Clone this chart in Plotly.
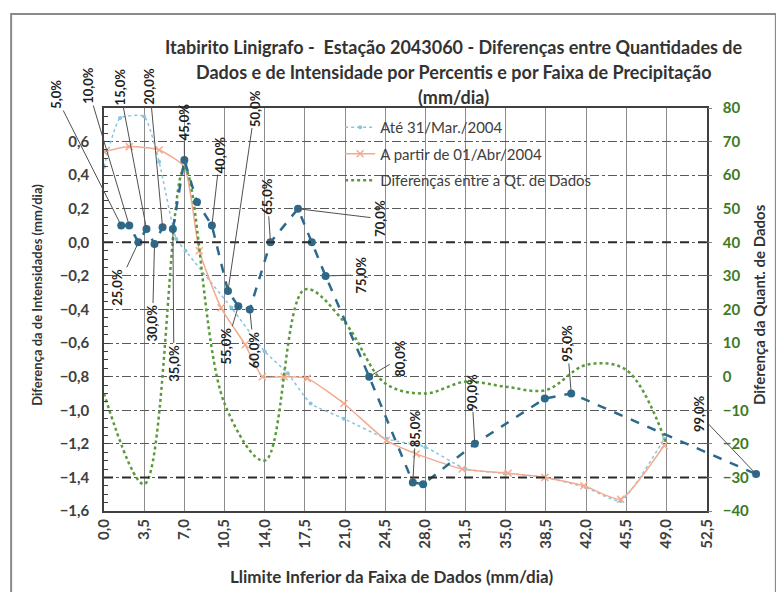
import plotly.graph_objects as go

# ---------------- data ----------------
# Dark blue series: difference of intensities by percentile (left axis)
x_dif = [1.5, 2.2, 3.0, 3.7, 4.4, 5.1, 6.0, 7.0, 8.1, 9.4, 10.8, 11.7, 12.7,
         14.5, 16.9, 18.1, 19.3, 23.1, 26.9, 27.8, 32.3, 38.4, 40.7, 56.8]
y_dif = [0.10, 0.10, 0.00, 0.08, -0.01, 0.09, 0.08, 0.49, 0.24, 0.10, -0.29, -0.38, -0.40,
         0.00, 0.20, 0.00, -0.20, -0.80, -1.43, -1.44, -1.20, -0.93, -0.90, -1.38]
pct_labels = ["5,0%", "10,0%", "25,0%", "15,0%", "30,0%", "20,0%", "35,0%", "45,0%", "",
              "40,0%", "50,0%", "55,0%", "60,0%", "65,0%", "70,0%", "", "75,0%", "80,0%",
              "85,0%", "", "90,0%", "", "95,0%", "99,0%"]
# label offsets (pixels) relative to the labelled point
label_dx = [-66, -42, -21, -27, -2, -13, 1, 0, 0, 8, 27, -12, 4, -3, 82, 0, 35, 30, 3, 0, -3, 0, -4, -57]
label_dy = [-131, -140, 45, -142, 79, -141, 134, -38, 0, -71, -183, 40, 40, -46, 10, 0, -1, -18, -54, 0, -52, 0, -50, -60]

# "Até 31/Mar./2004" (light blue)
x_ate = [0.0, 1.4, 3.5, 4.8, 6.3, 7.1, 11.1, 14.0, 16.0, 18.0, 20.9, 24.6, 28.0,
         31.5, 34.9, 38.4, 42.0, 45.0, 48.8]
y_ate = [0.45, 0.74, 0.75, 0.48, 0.02, -0.05, -0.39, -0.65, -0.78, -0.96, -1.05, -1.17, -1.22,
         -1.35, -1.375, -1.40, -1.46, -1.54, -1.17]

# "A partir de 01/Abr/2004" (salmon)
x_apartir = [0.0, 2.2, 4.8, 7.0, 8.3, 10.2, 12.3, 13.8, 15.7, 17.7, 20.9, 24.6, 27.2,
             31.2, 35.2, 38.4, 41.8, 45.0, 48.8]
y_apartir = [0.54, 0.57, 0.55, 0.45, -0.05, -0.39, -0.61, -0.80, -0.80, -0.81, -0.96, -1.18, -1.26,
             -1.35, -1.375, -1.40, -1.45, -1.53, -1.21]

# "Diferenças entre a Qt. de Dados" (green, right axis)
x_qt = [0.0, 3.5, 7.0, 10.5, 14.0, 17.5, 21.0, 24.5, 28.0, 31.5, 35.0, 38.5, 42.0, 45.5, 49.0]
y_qt = [-5, -32, 62, -8, -25, 26, 16, -2, -5, -1.5, -3, -4, 3.5, 2, -20]

ref_lines = [0.0, -1.4]

title_lines = ["Itabirito Linigrafo -  Estação 2043060 - Diferenças entre Quantidades de",
               "Dados e de Intensidade por Percentis e por Faixa de Precipitação",
               "(mm/dia)"]

# ---------------- geometry ----------------
W, H = 776, 592
ML, MR, MT, MB = 104, 4, 108, 81
PW = W - ML - MR
PH = H - MT - MB
PLOT_R = 714
D = (PLOT_R - ML) / PW
XMAX = 52.5


def px_x(p):
    return (p - ML) / PW


def px_y(p):
    return (H - MB - p) / PH


FONT = "Lato"
BLUE = "#2c6a8c"
LBLUE = "#86c5e0"
PINK = "#f3ab90"
GREEN = "#5a9a3a"

fig = go.Figure()

fig.add_trace(go.Scatter(
    x=x_ate, y=y_ate, name="Até 31/Mar./2004", mode="lines+markers",
    line=dict(color=LBLUE, width=1.5, dash="dot", shape="spline", smoothing=0.5),
    marker=dict(size=4, color=LBLUE), legendgroup="a",
    xaxis="x", yaxis="y"))

fig.add_trace(go.Scatter(
    x=x_apartir, y=y_apartir, name="A partir de 01/Abr/2004", mode="lines+markers",
    line=dict(color=PINK, width=1.5, shape="spline", smoothing=0.5),
    marker=dict(size=7, color=PINK, symbol="x-thin-open", line=dict(width=1.5, color=PINK)),
    legendgroup="b", xaxis="x", yaxis="y"))

fig.add_trace(go.Scatter(
    x=x_qt, y=y_qt, name="Diferenças entre a Qt. de Dados", mode="lines",
    line=dict(color=GREEN, width=2.5, dash="dot", shape="spline", smoothing=1.0),
    legendgroup="c", xaxis="x", yaxis="y2"))

fig.add_trace(go.Scatter(
    x=x_dif, y=y_dif, name="Diferença de Intensidades", mode="lines+markers",
    line=dict(color=BLUE, width=2.5, dash="dash"),
    marker=dict(size=8, color=BLUE), showlegend=False,
    xaxis="x3", yaxis="y3"))

annotations = []
for xv, yv, lab, dx, dy in zip(x_dif, y_dif, pct_labels, label_dx, label_dy):
    if not lab:
        continue
    annotations.append(dict(
        x=xv, y=yv, xref="x3", yref="y3", text=lab, showarrow=True,
        arrowhead=0, arrowwidth=1, arrowcolor="#505050", ax=dx, ay=dy,
        textangle=-90, font=dict(family=FONT, size=13, color="#1e1e1e", weight="bold")))

title_y_px = [47, 72, 97]
for t, yp in zip(title_lines, title_y_px):
    annotations.append(dict(
        x=px_x(458), y=px_y(yp), xref="paper", yref="paper", text=t, showarrow=False,
        xanchor="center", yanchor="middle",
        font=dict(family=FONT, size=18, color="#333333", weight="bold")))

annotations.append(dict(
    x=px_x(395), y=px_y(576), xref="paper", yref="paper", xanchor="center", yanchor="middle",
    text="Llimite Inferior da Faixa de Dados (mm/dia)", showarrow=False,
    font=dict(family=FONT, size=17, color="#333333", weight="bold")))
annotations.append(dict(
    x=px_x(36), y=px_y(295), xref="paper", yref="paper", textangle=-90,
    xanchor="center", yanchor="middle",
    text="Diferença da de Intensidades (mm/dia)", showarrow=False,
    font=dict(family=FONT, size=13, color="#333333", weight="bold")))
annotations.append(dict(
    x=px_x(767), y=px_y(305), xref="paper", yref="paper", textangle=-90,
    xanchor="center", yanchor="middle",
    text="Diferença da Quant. de Dados", showarrow=False,
    font=dict(family=FONT, size=15, color="#333333", weight="bold")))

shapes = []
for rv in ref_lines:
    shapes.append(dict(type="line", xref="x domain", yref="y", x0=0, x1=1, y0=rv, y1=rv,
                       line=dict(color="#2a2a2a", width=2, dash="dash"), layer="above"))
shapes.append(dict(type="rect", xref="paper", yref="paper",
                   x0=px_x(10), x1=px_x(784), y0=px_y(600), y1=px_y(14),
                   line=dict(color="#8a8a8a", width=2)))

tickfont = dict(family=FONT, size=15, color="#404040", weight="bold")

fig.update_layout(
    width=W, height=H, margin=dict(l=ML, r=MR, t=MT, b=MB),
    paper_bgcolor="white", plot_bgcolor="rgba(0,0,0,0)",
    separators=",.",
    showlegend=True,
    legend=dict(x=px_x(343), y=px_y(111), xanchor="left", yanchor="top",
                bgcolor="rgba(0,0,0,0)", traceorder="grouped", tracegroupgap=4,
                font=dict(family=FONT, size=15, color="#404040")),
    xaxis=dict(domain=[0, D], range=[0, XMAX], tick0=0, dtick=3.5, tickformat=".1f",
               tickangle=-90, tickfont=tickfont, showgrid=True, gridcolor="#8c8c8c",
               gridwidth=1, showline=True, linecolor="#404040", linewidth=2, mirror=True,
               ticks="", zeroline=False, anchor="y"),
    yaxis=dict(range=[-1.6, 0.8], tickvals=[-1.6, -1.4, -1.2, -1.0, -0.8, -0.6, -0.4, -0.2,
                                           0.0, 0.2, 0.4, 0.6],
               tickformat=".1f", tickfont=tickfont, showgrid=True, gridcolor="#5a5a5a",
               griddash="dashdot", gridwidth=1, showline=True, linecolor="#404040",
               linewidth=1.5, mirror=True, ticks="inside", ticklen=6, tickcolor="#404040",
               ticklabelstandoff=10,
               minor=dict(dtick=0.05, ticks="inside", ticklen=4, tickcolor="#404040", showgrid=False),
               zeroline=False, anchor="x"),
    yaxis2=dict(range=[-40, 80], dtick=10, overlaying="y", side="right", anchor="free",
                position=D, showgrid=False, zeroline=False,
                tickfont=dict(family=FONT, size=15, color="#3d7a22", weight="bold"),
                ticks="outside", ticklen=4, tickcolor="#808080", showline=False,
                ticklabelstandoff=8),
    xaxis3=dict(domain=[0, 1], range=[0, XMAX / D], visible=False, showgrid=False,
                zeroline=False, anchor="y3"),
    yaxis3=dict(domain=[0, 1], range=[-1.6, 0.8], visible=False, showgrid=False,
                zeroline=False, anchor="x3"),
    annotations=annotations,
    shapes=shapes,
)

fig.write_html("out.html", config={"displayModeBar": False},
               post_script="document.body.style.margin='0px';")
